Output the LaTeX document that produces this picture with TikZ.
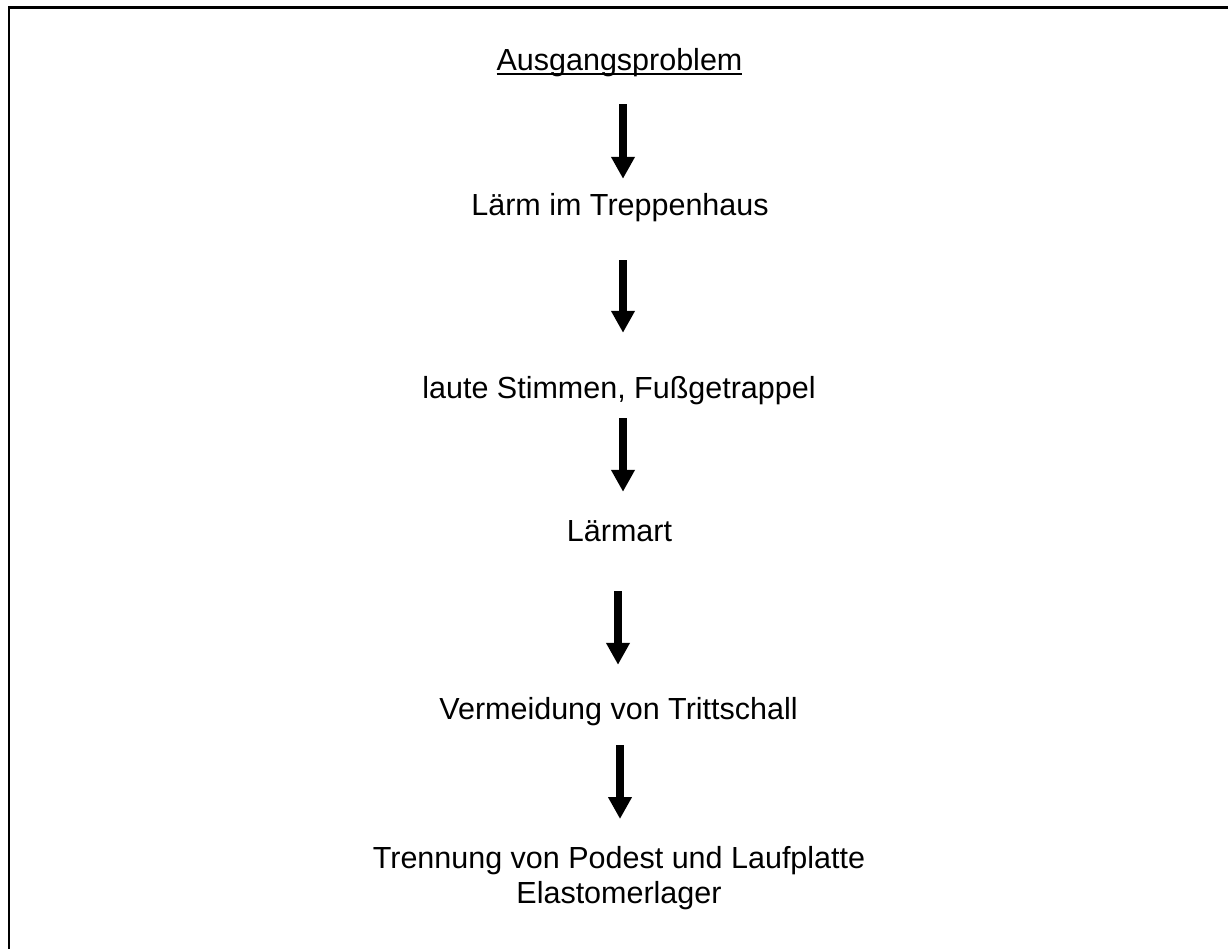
\documentclass[tikz,border=0pt]{standalone}
\usepackage{fontspec}
\setmainfont{Liberation Sans}
\usetikzlibrary{arrows.meta}
\newcommand\myul[1]{\setbox0\hbox{#1}\rlap{\rule[-3.6pt]{\wd0}{1.8pt}}\box0}
\tikzset{
  txt/.style={inner sep=0pt, anchor=base, font=\fontsize{30.5}{35}\selectfont, text height=22pt, text depth=6pt},
  arr/.style={line width=7.5pt, -{Triangle[width=22.5pt,length=22pt]}},
  frame/.style={line width=2.6pt}
}
\begin{document}
\begin{tikzpicture}[x=1pt,y=-1pt]
\useasboundingbox (0,0) rectangle (1228,949);
\draw[frame] (9,949) -- (9,7.8) -- (1230,7.8);
\node[txt] (a) at (619.5,71) {\myul{Ausgangsproblem}};
\node[txt] (b) at (620,216) {Lärm im Treppenhaus};
\node[txt] (c) at (619,398) {laute Stimmen, Fußgetrappel};
\node[txt] (d) at (619.5,541) {Lärmart};
\node[txt] (e) at (618.5,719) {Vermeidung von Trittschall};
\node[inner sep=0pt, anchor=north, align=center, font=\fontsize{30.5}{35}\selectfont] (f) at (619,846) {Trennung von Podest und Laufplatte\\Elastomerlager};
\draw[arr, shorten <=27pt, shorten >=15pt] ([xshift=3.5pt]a.south) -- ([xshift=3pt]b.north);
\draw[arr, shorten <=38pt, shorten >=43pt] ([xshift=3pt]b.south) -- ([xshift=4pt]c.north);
\draw[arr, shorten <=14pt, shorten >=27pt] ([xshift=4pt]c.south) -- ([xshift=3.5pt]d.north);
\draw[arr, shorten <=44pt, shorten >=32pt] ([xshift=-1.5pt]d.south) -- ([xshift=-0.5pt]e.north);
\draw[arr, shorten <=20pt, shorten >=27pt] ([xshift=1.5pt]e.south) -- ([xshift=1pt]f.north);
\end{tikzpicture}
\end{document}
